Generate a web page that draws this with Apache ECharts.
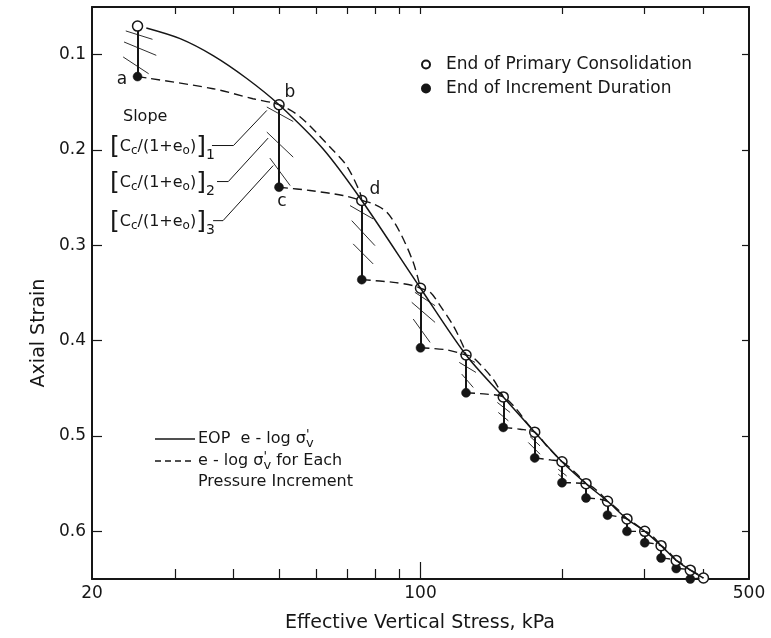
<!DOCTYPE html>
<html>
<head>
<meta charset="utf-8">
<title>Axial strain vs effective vertical stress</title>
<script src="https://cdn.jsdelivr.net/npm/echarts@6/dist/echarts.min.js"></script>
<style>
  html, body { margin: 0; padding: 0; background: #fff; }
  #chart { width: 771px; height: 638px; }
</style>
</head>
<body>
<div id="chart"></div>
<script>
// load increments (kPa)
const stress = [25, 50, 75, 100, 125, 150, 175, 200, 225, 250, 275, 300, 325, 350, 375, 400];
// end of primary consolidation (open circles)
const eopStrain = [0.070, 0.1525, 0.253, 0.345, 0.415, 0.459, 0.496, 0.527, 0.550, 0.5685, 0.587, 0.600, 0.615, 0.6305, 0.6407, 0.649];
// end of increment duration (filled circles)
const eoiStrain = [0.123, 0.239, 0.336, 0.4075, 0.4547, 0.491, 0.523, 0.549, 0.565, 0.583, 0.600, 0.612, 0.628, 0.639, 0.650];

// EOP e-log curve (solid)
const eopCurveStress = [26.1, 30.8, 36.2, 42.7, 50, 62, 75, 100, 125, 150, 175, 200, 225, 250, 275, 300, 325, 350, 375, 400];
const eopCurveStrain = [0.072, 0.0832, 0.101, 0.125, 0.1525, 0.1987, 0.253, 0.345, 0.415, 0.459, 0.496, 0.527, 0.550, 0.5685, 0.587, 0.600, 0.615, 0.6305, 0.6407, 0.649];

// e-log curve of each pressure increment (dashed), [stress, strain]
const incrementCurves = [
  [[25, 0.123], [36.2, 0.1357], [44.0, 0.1462], [50, 0.1525], [55.4, 0.1651], [64.7, 0.1987], [69.6, 0.2163], [74.3, 0.2442], [75, 0.253]],
  [[50, 0.239], [58.2, 0.2425], [68.4, 0.2477], [75, 0.253], [79.3, 0.2565], [84.8, 0.2652], [90.4, 0.2862], [96.5, 0.3178], [100, 0.345]],
  [[75, 0.336], [87.6, 0.3388], [96.5, 0.3423], [100, 0.345], [104.9, 0.3493], [110.1, 0.3633], [117.4, 0.3843], [123.2, 0.4054], [125, 0.415]],
  [[100, 0.4075], [113.6, 0.4096], [125, 0.415], [129.4, 0.4175], [142.7, 0.4403], [150, 0.459]],
  [[125, 0.4547], [138.2, 0.4561], [150, 0.459], [160, 0.4718], [168.1, 0.4858], [175, 0.496]],
  [[150, 0.491], [162.9, 0.4929], [175, 0.496], [185.6, 0.5104], [200, 0.527]],
  [[175, 0.523], [188.8, 0.5251], [200, 0.527], [213.3, 0.5383], [225, 0.55]],
  [[200, 0.549], [225, 0.55], [250, 0.5685]],
  [[225, 0.565], [250, 0.5685], [275, 0.587]],
  [[250, 0.583], [275, 0.587], [300, 0.600]],
  [[275, 0.600], [300, 0.600], [325, 0.615]],
  [[300, 0.612], [325, 0.615], [350, 0.6305]],
  [[325, 0.628], [350, 0.6305], [375, 0.6407]],
  [[350, 0.639], [375, 0.6407], [400, 0.649]],
  [[375, 0.650], [400, 0.649]]
];

// short slope marks beside each increment
const hatchMarks = [
  [[23.6, 0.0751], [26.9, 0.0839]], [[23.4, 0.0867], [27.4, 0.1007]], [[23.3, 0.1024], [26.4, 0.1200]],
  [[47.1, 0.1549], [53.6, 0.1701]], [[47.1, 0.1812], [53.6, 0.2075]], [[47.8, 0.2085], [52.8, 0.2373]],
  [[70.8, 0.2583], [79.3, 0.2723]], [[71.4, 0.2741], [80.0, 0.3003]], [[71.9, 0.2985], [79.3, 0.3195]],
  [[97.3, 0.3493], [107.4, 0.3633]], [[95.8, 0.3598], [107.4, 0.3808]], [[96.5, 0.3773], [104.8, 0.4018]],
  [[121.3, 0.4141], [130.6, 0.4228]], [[120.9, 0.4228], [131.2, 0.4333]], [[122.4, 0.4351], [129.5, 0.4491]],
  [[145.7, 0.4648], [155.1, 0.4753]], [[146.4, 0.4753], [153.8, 0.4841]],
  [[171.0, 0.5005], [179.6, 0.5104]], [[169.6, 0.5068], [179.6, 0.5191]],
  [[196.4, 0.5349], [204.6, 0.5419]], [[196.4, 0.5401], [204.6, 0.5472]]
];

// leader arrows from the slope labels
const slopeLeaders = [
  [[36.0, 0.1953], [40.0, 0.1953], [47.1, 0.1585]],
  [[36.9, 0.2331], [39.0, 0.2331], [47.4, 0.1875]],
  [[36.2, 0.2741], [38.0, 0.2741], [48.6, 0.2163]]
];

// axis ticks / labels
const xMinorTicks = [30, 40, 50, 60, 70, 80, 90, 200, 300, 400];
const xMajorTicks = [100];
const xTickLabels = [20, 100, 500];
const yTicks = [0.1, 0.2, 0.3, 0.4, 0.5, 0.6];

const X_MIN = 20, X_MAX = 500, Y_MIN = 0.05, Y_MAX = 0.65;
const INK = '#161616';
const FONT = 'DejaVu Sans';
const lg = v => Math.log10(v);

const chart = echarts.init(document.getElementById('chart'), null, { renderer: 'canvas' });

// overlay value axis in log10 space, only used to place ticks/labels at 20, 30, ... 500
function tickAxis(position, ticks, len, labels) {
  return {
    type: 'value', gridIndex: 0, position,
    min: lg(X_MIN), max: lg(X_MAX),
    axisLine: { show: position === 'top', lineStyle: { color: INK, width: 2 } },
    axisTick: { show: true, inside: true, length: len, customValues: ticks.map(lg), lineStyle: { color: INK, width: 1.2 } },
    axisLabel: labels ? {
      show: true, customValues: labels.map(lg), margin: 6, color: INK, fontSize: 17, fontFamily: FONT,
      formatter: v => String(Math.round(Math.pow(10, v)))
    } : { show: false },
    splitLine: { show: false }
  };
}

function strainAxis(position, showLabels, len) {
  return {
    type: 'value', position, inverse: true, min: Y_MIN, max: Y_MAX,
    axisLine: { show: true, lineStyle: { color: INK, width: 2 } },
    axisTick: { show: true, inside: true, length: len, customValues: yTicks, lineStyle: { color: INK, width: 1.2 } },
    axisLabel: showLabels ? {
      show: true, customValues: yTicks, margin: 6, color: INK, fontSize: 17, fontFamily: FONT,
      formatter: v => v.toFixed(1)
    } : { show: false },
    splitLine: { show: false }
  };
}

const sub = { fontSize: 12, fontFamily: FONT, fill: INK, padding: [8, 0, 0, 0] };
const bracketRich = {
  br: { fontSize: 25, fontFamily: FONT, fill: INK },
  t: { fontSize: 16, fontFamily: FONT, fill: INK },
  s: sub,
  n: { fontSize: 14, fontFamily: FONT, fill: INK, padding: [17, 0, 0, 0] }
};
const sigmaRich = {
  p: { fontSize: 13, fontFamily: FONT, fill: INK, width: 0, padding: [0, 0, 9, 0] },
  v: { fontSize: 13, fontFamily: FONT, fill: INK, padding: [9, 0, 0, 0] }
};

function label(x, y, text, size, align, rich) {
  return {
    type: 'text', x, y, silent: true,
    style: { text, fill: INK, font: size + 'px ' + FONT, align: align || 'left', verticalAlign: 'middle', rich }
  };
}

const dashed = incrementCurves.map(pts => ({
  type: 'line', xAxisIndex: 0, yAxisIndex: 0, data: pts,
  smooth: 0.3, showSymbol: false, silent: true,
  lineStyle: { color: INK, width: 1.4, type: [9, 5] }
}));

const option = {
  backgroundColor: '#fff',
  animation: false,
  textStyle: { fontFamily: FONT, color: INK },
  grid: { left: 92, right: 22, top: 7, bottom: 59, outerBoundsMode: 'none' },
  legend: {
    left: 416, top: 51, orient: 'vertical', itemGap: 7,
    itemWidth: 30, itemHeight: 8, selectedMode: false,
    textStyle: { fontSize: 17, fontFamily: FONT, color: INK },
    data: ['End of Primary Consolidation', 'End of Increment Duration']
  },
  xAxis: [
    {
      type: 'log', logBase: 10, min: X_MIN, max: X_MAX, position: 'bottom',
      axisLine: { show: true, lineStyle: { color: INK, width: 2 } },
      axisTick: { show: false }, axisLabel: { show: false }, splitLine: { show: false }
    },
    tickAxis('bottom', xMinorTicks, 10, null),
    tickAxis('bottom', xMajorTicks, 17, xTickLabels),
    tickAxis('top', xMinorTicks.concat(xMajorTicks), 7, null)
  ],
  yAxis: [strainAxis('left', true, 10), strainAxis('right', false, 7)],
  series: [
    {
      type: 'lines', coordinateSystem: 'cartesian2d', xAxisIndex: 0, yAxisIndex: 0, silent: true,
      lineStyle: { color: INK, width: 0.9, opacity: 1 },
      data: hatchMarks.map(c => ({ coords: c }))
    },
    {
      type: 'lines', coordinateSystem: 'cartesian2d', xAxisIndex: 0, yAxisIndex: 0, silent: true,
      polyline: true, symbol: ['none', 'arrow'], symbolSize: 7,
      lineStyle: { color: INK, width: 1, opacity: 1 },
      data: slopeLeaders.map(c => ({ coords: c }))
    },
    {
      // EOP to end-of-increment verticals
      type: 'lines', coordinateSystem: 'cartesian2d', xAxisIndex: 0, yAxisIndex: 0, silent: true,
      lineStyle: { color: INK, width: 2, opacity: 1 },
      data: eoiStrain.map((e, i) => ({ coords: [[stress[i], eopStrain[i]], [stress[i], e]] }))
    },
    {
      type: 'line', name: 'EOP e-log', xAxisIndex: 0, yAxisIndex: 0, silent: true,
      data: eopCurveStress.map((s, i) => [s, eopCurveStrain[i]]),
      smooth: 0.3, showSymbol: false,
      lineStyle: { color: INK, width: 1.5 }
    },
    ...dashed,
    {
      type: 'scatter', name: 'End of Increment Duration', xAxisIndex: 0, yAxisIndex: 0,
      data: eoiStrain.map((e, i) => [stress[i], e]),
      symbol: 'circle', symbolSize: 9,
      itemStyle: { color: INK, borderColor: INK, borderWidth: 0.5, opacity: 1 }
    },
    {
      type: 'scatter', name: 'End of Primary Consolidation', xAxisIndex: 0, yAxisIndex: 0,
      data: eopStrain.map((e, i) => [stress[i], e]),
      symbol: 'circle', symbolSize: 10,
      itemStyle: { color: '#fff', borderColor: INK, borderWidth: 1.5, opacity: 1 }
    }
  ],
  graphic: [
    label(122, 80, 'a', 17, 'center'),
    label(290, 93, 'b', 17, 'center'),
    label(282, 202, 'c', 17, 'center'),
    label(375, 190, 'd', 17, 'center'),
    label(123, 117, 'Slope', 16),
    label(110, 147, '{br|[}{t|C}{s|c}{t|/(1+e}{s|o}{t|)}{br|]}{n|1}', 16, 'left', bracketRich),
    label(110, 183, '{br|[}{t|C}{s|c}{t|/(1+e}{s|o}{t|)}{br|]}{n|2}', 16, 'left', bracketRich),
    label(110, 222, '{br|[}{t|C}{s|c}{t|/(1+e}{s|o}{t|)}{br|]}{n|3}', 16, 'left', bracketRich),
    // lower-left key
    { type: 'line', silent: true, shape: { x1: 155, y1: 439, x2: 195, y2: 439 }, style: { stroke: INK, lineWidth: 1.5 } },
    { type: 'line', silent: true, shape: { x1: 155, y1: 461, x2: 195, y2: 461 }, style: { stroke: INK, lineWidth: 1.4, lineDash: [6, 4] } },
    label(198, 439, "EOP  e - log σ{p|'}{v|v}", 16, 'left', sigmaRich),
    label(198, 461, "e - log σ{p|'}{v|v} for Each", 16, 'left', sigmaRich),
    label(198, 482, 'Pressure Increment', 16),
    // axis titles
    label(420, 623, 'Effective Vertical Stress, kPa', 19, 'center'),
    { type: 'text', x: 39, y: 333, rotation: Math.PI / 2, silent: true,
      style: { text: 'Axial Strain', fill: INK, font: '19px ' + FONT, align: 'center', verticalAlign: 'middle' } }
  ]
};

chart.setOption(option);
window.addEventListener('resize', () => chart.resize());
</script>
</body>
</html>
